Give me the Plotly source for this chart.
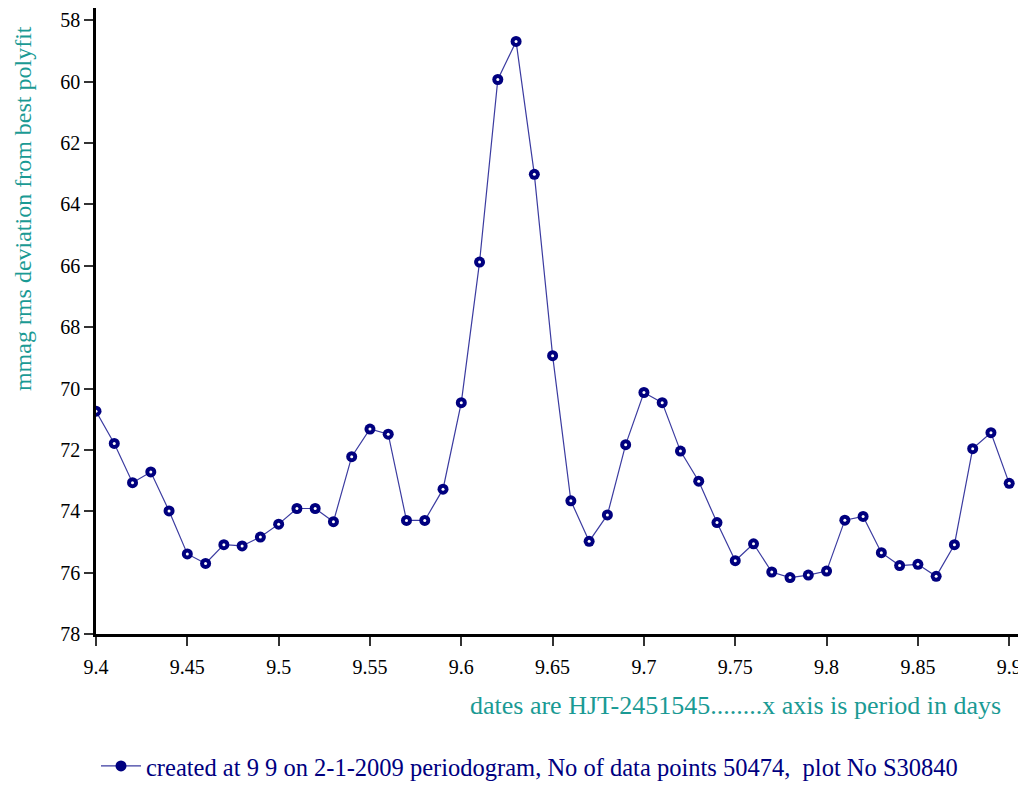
import plotly.graph_objects as go

# period in days (x axis)
periods = [9.40, 9.41, 9.42, 9.43, 9.44, 9.45, 9.46, 9.47, 9.48, 9.49,
           9.50, 9.51, 9.52, 9.53, 9.54, 9.55, 9.56, 9.57, 9.58, 9.59,
           9.60, 9.61, 9.62, 9.63, 9.64, 9.65, 9.66, 9.67, 9.68, 9.69,
           9.70, 9.71, 9.72, 9.73, 9.74, 9.75, 9.76, 9.77, 9.78, 9.79,
           9.80, 9.81, 9.82, 9.83, 9.84, 9.85, 9.86, 9.87, 9.88, 9.89,
           9.90]

# mmag rms deviation from best polyfit
rms_dev = [70.74, 71.79, 73.07, 72.72, 73.99, 75.39, 75.70, 75.09, 75.13, 74.84,
           74.42, 73.91, 73.91, 74.34, 72.22, 71.32, 71.49, 74.30, 74.30, 73.28,
           70.46, 65.88, 59.93, 58.69, 63.02, 68.93, 73.66, 74.98, 74.12, 71.83,
           70.13, 70.46, 72.04, 73.02, 74.37, 75.61, 75.06, 75.98, 76.16, 76.08,
           75.95, 74.29, 74.17, 75.35, 75.77, 75.73, 76.12, 75.09, 71.96, 71.44,
           73.09]

y_ticks = [58, 60, 62, 64, 66, 68, 70, 72, 74, 76, 78]
x_ticks = [9.4, 9.45, 9.5, 9.55, 9.6, 9.65, 9.7, 9.75, 9.8, 9.85, 9.9]
x_tick_labels = ['9.4', '9.45', '9.5', '9.55', '9.6', '9.65', '9.7', '9.75', '9.8', '9.85', '9.9']

legend_label = 'created at 9 9 on 2-1-2009 periodogram, No of data points 50474,\u00a0\u00a0plot No S30840'

TEAL = '#1a9a94'
NAVY = '#00007f'
SERIF = 'Liberation Serif, Times New Roman, serif'

fig = go.Figure()

fig.add_trace(go.Scatter(
    x=periods,
    y=rms_dev,
    mode='lines+markers',
    name=legend_label,
    line=dict(color='#3b3ba0', width=1.2),
    marker=dict(color=NAVY, size=11, symbol='circle', line=dict(width=0))
))

# small white centre dots on the markers
fig.add_trace(go.Scatter(
    x=periods,
    y=rms_dev,
    mode='markers',
    showlegend=False,
    hoverinfo='skip',
    marker=dict(color='white', size=3, symbol='circle', line=dict(width=0))
))

# page body has an 8px margin, so the figure is 8px smaller than the window
fig.update_layout(
    width=1018,
    height=779,
    paper_bgcolor='white',
    plot_bgcolor='white',
    font=dict(family=SERIF, size=20, color='black'),
    margin=dict(l=88, r=4, t=0, b=153, autoexpand=False),
    showlegend=True,
    legend=dict(
        orientation='h',
        x=0.0, xanchor='left',
        y=-0.175, yanchor='top',
        font=dict(family=SERIF, size=24.5, color=NAVY),
        bgcolor='rgba(0,0,0,0)',
        itemwidth=40
    ),
    xaxis=dict(
        range=[9.4, 9.907],
        tickmode='array',
        tickvals=x_ticks,
        ticktext=x_tick_labels,
        ticks='outside',
        ticklen=9,
        tickwidth=1.5,
        tickcolor='#333',
        ticklabelstandoff=4,
        showline=True,
        linecolor='black',
        linewidth=2.5,
        showgrid=False,
        zeroline=False,
        tickfont=dict(family=SERIF, size=20, color='black')
    ),
    yaxis=dict(
        range=[78, 57.6],
        tickmode='array',
        tickvals=y_ticks,
        ticks='outside',
        ticklen=9,
        tickwidth=1.5,
        tickcolor='#333',
        showline=True,
        linecolor='black',
        linewidth=2.5,
        showgrid=False,
        zeroline=False,
        tickfont=dict(family=SERIF, size=20, color='black')
    ),
    annotations=[
        dict(
            text='mmag rms deviation from best polyfit',
            textangle=-90,
            xref='paper', yref='paper',
            x=-0.078, y=0.68,
            xanchor='center', yanchor='middle',
            showarrow=False,
            font=dict(family=SERIF, size=24, color=TEAL)
        ),
        dict(
            text='dates are HJT-2451545........x axis is period in days',
            xref='paper', yref='paper',
            x=0.979, y=-0.115,
            xanchor='right', yanchor='middle',
            showarrow=False,
            font=dict(family=SERIF, size=26, color=TEAL)
        )
    ]
)

fig.write_html("out.html")
